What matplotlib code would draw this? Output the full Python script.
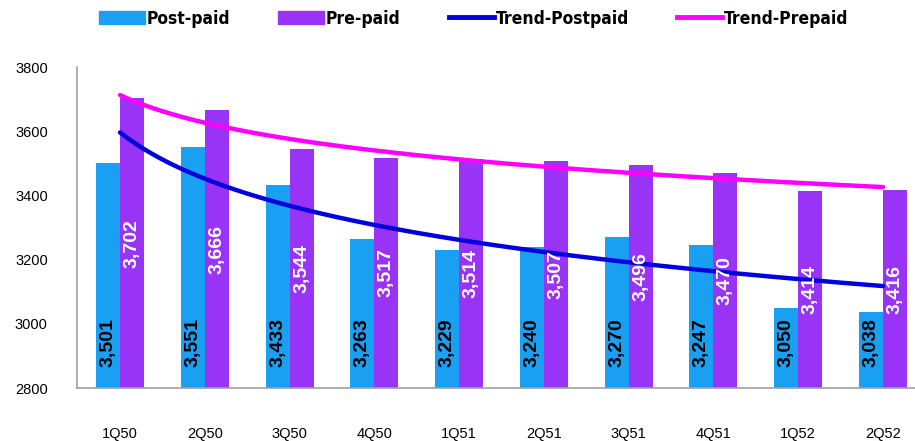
import numpy as np
import matplotlib
matplotlib.use('Agg')
import matplotlib.pyplot as plt
from matplotlib.patches import Patch
from matplotlib.lines import Line2D

quarters = ['1Q50', '2Q50', '3Q50', '4Q50', '1Q51', '2Q51', '3Q51', '4Q51', '1Q52', '2Q52']
postpaid = [3501, 3551, 3433, 3263, 3229, 3240, 3270, 3247, 3050, 3038]
prepaid = [3702, 3666, 3544, 3517, 3514, 3507, 3496, 3470, 3414, 3416]

post_color = '#1AA0F2'
pre_color = '#9933F5'
trend_post_color = '#0000DD'
trend_pre_color = '#FF00FF'

plt.rcParams['font.family'] = ['Liberation Sans', 'DejaVu Sans']

fig = plt.figure(figsize=(9.15, 4.41), dpi=100)
ax = fig.add_axes([77/915, 53/441, 849/915, 321/441])

x = np.arange(len(quarters))
w = 0.283
ax.bar(x - w/2, postpaid, width=w, color=post_color)
ax.bar(x + w/2, prepaid, width=w, color=pre_color)

# logarithmic trend lines (like excel)
xs = np.linspace(1, len(quarters), 200)
for vals, col in [(postpaid, trend_post_color), (prepaid, trend_pre_color)]:
    b, a = np.polyfit(np.log(np.arange(1, len(vals) + 1)), vals, 1)
    ax.plot(xs - 1, a + b*np.log(xs), color=col, lw=3.2, solid_capstyle='round')

for i in range(len(quarters)):
    ax.annotate(f'{postpaid[i]:,}', xy=(x[i] - w/2, 2800), xytext=(0, 15),
                textcoords='offset points', rotation=90, ha='center', va='bottom',
                fontsize=14, fontweight='bold', color='black')
    ax.text(x[i] + w/2, (2800 + prepaid[i]) / 2, f'{prepaid[i]:,}', rotation=90,
            ha='center', va='center', fontsize=14, fontweight='bold', color='white')

ax.set_ylim(2800, 3800)
ax.set_yticks([2800, 3000, 3200, 3400, 3600, 3800])
ax.set_xlim(-0.507, 9.507)
ax.set_xticks(x)
ax.set_xticklabels(quarters)
ax.tick_params(axis='both', length=0, labelsize=10.5)
ax.tick_params(axis='x', pad=28)
ax.tick_params(axis='y', pad=21)
for s in ['top', 'right']:
    ax.spines[s].set_visible(False)
for s in ['left', 'bottom']:
    ax.spines[s].set_color('#A0A0A0')
    ax.spines[s].set_linewidth(1.2)

handles = [Patch(color=post_color), Patch(color=pre_color),
           Line2D([], [], color=trend_post_color, lw=3.5),
           Line2D([], [], color=trend_pre_color, lw=3.5)]
labels = ['Post-paid', 'Pre-paid', 'Trend-Postpaid', 'Trend-Prepaid']
fig.legend(handles, labels, loc='center', bbox_to_anchor=(0.518, 0.958), ncol=4,
           frameon=False, handlelength=2.6, handletextpad=0.1, columnspacing=2.8,
           prop={'family': ['DejaVu Sans'], 'stretch': 'condensed', 'weight': 'bold', 'size': 12.5})

fig.savefig('out.png', dpi=100)
